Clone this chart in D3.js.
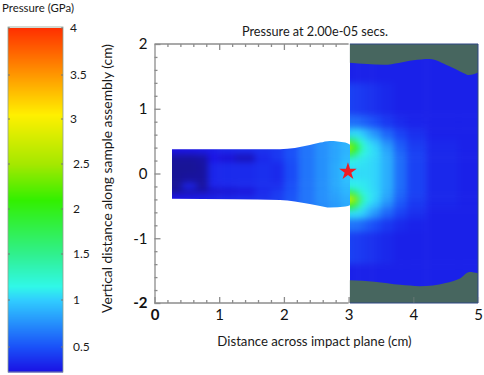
<!DOCTYPE html>
<html>
<head>
<meta charset="utf-8">
<script src="https://cdnjs.cloudflare.com/ajax/libs/d3/7.8.5/d3.min.js"></script>
<style>
body { margin: 0; background: #fff; }
svg { display: block; }
text { font-family: Lato, "Open Sans", sans-serif; fill: #1a1a1a; }
.axis .domain, .axis line { stroke: #8c8c8c; stroke-width: 1.3; }
.axis text { font-size: 15px; font-family: Lato, sans-serif; fill: #111; }
</style>
</head>
<body>
<svg id="chart" width="484" height="375"></svg>
<script>
// colour legend
var barTicks = [4, 3.5, 3, 2.5, 2, 1.5, 1, 0.5];
var colorStops = [0, 0.23, 0.5, 1, 1.15, 1.5, 2.1, 2.5, 3.05, 3.5, 4];
var colorValues = ["#17157a", "#1a10e4", "#1a50f8", "#30ccff", "#30f8e8", "#30f08e", "#32f000", "#a4e800", "#fff000", "#ff9800", "#ff3000"];

// axes
var xMajor = [0, 1, 2, 3, 4, 5];
var yMajor = [2, 1, 0, -1, -2];
var xMinor = [0.2, 0.4, 0.6, 0.8, 1.2, 1.4, 1.6, 1.8, 2.2, 2.4, 2.6, 2.8];
var yMinor = [1.8, 1.6, 1.4, 1.2, 0.8, 0.6, 0.4, 0.2, -0.2, -0.4, -0.6, -0.8, -1.2, -1.4, -1.6, -1.8];

// outline of the impactor (cm)
var impX = [0.27, 1.24, 1.94, 2.4, 2.56, 2.71, 2.95, 3.03];
var impTop = [0.375, 0.375, 0.375, 0.44, 0.477, 0.503, 0.477, 0.44];
var impBottom = [-0.39, -0.397, -0.408, -0.47, -0.5, -0.527, -0.51, -0.485];

// inert (grey) zones of the target
var greyTopX = [3.02, 3.55, 4.0, 4.25, 4.55, 4.78, 4.86, 5.0];
var greyTopY = [1.71, 1.68, 1.75, 1.77, 1.66, 1.55, 1.52, 1.56];
var greyBotX = [3.02, 3.4, 3.8, 4.1, 4.5, 4.72, 4.87, 5.0];
var greyBotY = [-1.65, -1.67, -1.72, -1.74, -1.69, -1.62, -1.52, -1.54];

// pressure (GPa)
var impGridX = [0.3, 0.55, 0.75, 0.9, 1.1, 1.4, 1.7, 1.9, 2.1, 2.35, 2.6, 2.8, 2.95];
var impGridY = [0.5, 0.34, 0.26, 0.1, -0.1, -0.2, -0.28, -0.36, -0.5];
var impGrid = [
  [0.24, 0.26, 0.28, 0.3, 0.33, 0.35, 0.37, 0.4, 0.5, 0.65, 0.76, 0.84, 0.9],
  [0.24, 0.25, 0.27, 0.29, 0.33, 0.35, 0.37, 0.4, 0.5, 0.65, 0.76, 0.84, 0.9],
  [0.08, 0.08, 0.1, 0.24, 0.2, 0.14, 0.33, 0.4, 0.5, 0.65, 0.76, 0.84, 0.92],
  [0.06, 0.06, 0.08, 0.32, 0.34, 0.34, 0.36, 0.34, 0.48, 0.65, 0.76, 0.86, 0.95],
  [0.06, 0.08, 0.08, 0.32, 0.34, 0.34, 0.36, 0.34, 0.48, 0.65, 0.76, 0.86, 0.95],
  [0.06, 0.3, 0.08, 0.3, 0.32, 0.34, 0.36, 0.36, 0.5, 0.65, 0.76, 0.86, 0.92],
  [0.08, 0.1, 0.12, 0.16, 0.18, 0.2, 0.33, 0.4, 0.5, 0.65, 0.76, 0.84, 0.92],
  [0.24, 0.26, 0.28, 0.3, 0.32, 0.34, 0.37, 0.42, 0.52, 0.65, 0.76, 0.82, 0.88],
  [0.24, 0.26, 0.28, 0.3, 0.32, 0.34, 0.37, 0.42, 0.52, 0.65, 0.74, 0.8, 0.86]
];

// pressure (GPa)
var tgtGridX = [3.0, 3.1, 3.2, 3.3, 3.4, 3.6, 3.8, 4.0, 4.4, 5.0];
var tgtGridY = [1.8, 1.0, 0.8, 0.6, 0.5, 0.4, 0.3, 0.2, 0, -0.2, -0.3, -0.4, -0.5, -0.6, -0.8, -1.0, -1.8];
var tgtGrid = [
  [0.3, 0.3, 0.3, 0.3, 0.3, 0.3, 0.3, 0.3, 0.3, 0.3],
  [0.44, 0.42, 0.4, 0.38, 0.36, 0.33, 0.3, 0.3, 0.3, 0.3],
  [0.62, 0.62, 0.58, 0.54, 0.48, 0.4, 0.34, 0.31, 0.3, 0.3],
  [1.0, 1.05, 1.0, 0.88, 0.76, 0.58, 0.44, 0.36, 0.3, 0.3],
  [1.7, 1.5, 1.18, 1.04, 0.94, 0.72, 0.52, 0.4, 0.32, 0.3],
  [2.7, 2.1, 1.35, 1.12, 1.02, 0.82, 0.56, 0.42, 0.33, 0.3],
  [1.8, 1.55, 1.2, 1.1, 1.04, 0.86, 0.6, 0.44, 0.33, 0.3],
  [1.12, 1.1, 1.08, 1.06, 1.02, 0.88, 0.62, 0.44, 0.33, 0.3],
  [1.04, 1.04, 1.05, 1.05, 1.02, 0.88, 0.62, 0.44, 0.33, 0.3],
  [1.12, 1.12, 1.1, 1.08, 1.02, 0.88, 0.62, 0.44, 0.33, 0.3],
  [1.8, 1.6, 1.22, 1.1, 1.04, 0.86, 0.6, 0.44, 0.33, 0.3],
  [3.0, 2.4, 1.45, 1.14, 1.02, 0.82, 0.56, 0.42, 0.33, 0.3],
  [2.0, 1.7, 1.22, 1.04, 0.94, 0.72, 0.52, 0.4, 0.32, 0.3],
  [1.05, 1.05, 1.02, 0.9, 0.76, 0.58, 0.44, 0.36, 0.3, 0.3],
  [0.64, 0.64, 0.6, 0.54, 0.48, 0.4, 0.34, 0.31, 0.3, 0.3],
  [0.44, 0.42, 0.4, 0.38, 0.36, 0.33, 0.3, 0.3, 0.3, 0.3],
  [0.3, 0.3, 0.3, 0.3, 0.3, 0.3, 0.3, 0.3, 0.3, 0.3]
];

var starPoint = [2.99, 0.03];

var svg = d3.select("#chart");
var x = d3.scaleLinear().domain([0, 5]).range([154.5, 478]);
var y = d3.scaleLinear().domain([-2, 2]).range([303, 44]);
var color = d3.scaleLinear().domain(colorStops).range(colorValues).clamp(true);
var barY = d3.scaleLinear().domain(barTicks.concat([0.23])).range([28, 75, 119, 164, 209, 254, 300, 347, 372]);

var defs = svg.append("defs");
defs.append("filter").attr("id", "soft")
  .attr("x", "-10%").attr("y", "-10%").attr("width", "120%").attr("height", "120%")
  .attr("color-interpolation-filters", "sRGB")
  .append("feGaussianBlur").attr("stdDeviation", 3);

var impArea = d3.area()
  .x(function(d){ return x(d); })
  .y0(function(d, i){ return y(impBottom[i]); })
  .y1(function(d, i){ return y(impTop[i]); })
  .curve(d3.curveMonotoneX);
defs.append("clipPath").attr("id", "imp-clip")
  .append("path").attr("d", impArea(impX));
defs.append("clipPath").attr("id", "tgt-clip")
  .append("rect").attr("x", x(3.02)).attr("y", y(2)).attr("width", x(5) - x(3.02)).attr("height", y(-2) - y(2));

// one band per grid node, the outer bands run on past the clip so the blur has no edge
function bandEdges(nodes, scale){
  var px = nodes.map(scale);
  return px.map(function(p, i){
    var a = i == 0 ? p - Math.sign(px[1] - p) * 30 : (px[i - 1] + p) / 2;
    var b = i == px.length - 1 ? p + Math.sign(p - px[i - 1]) * 30 : (px[i + 1] + p) / 2;
    return [Math.min(a, b), Math.max(a, b)];
  });
}

function drawField(grid, gridX, gridY, clipId){
  var xb = bandEdges(gridX, x);
  var yb = bandEdges(gridY, y);
  var cells = [];
  grid.forEach(function(row, r){
    row.forEach(function(p, c){ cells.push({p: p, r: r, c: c}); });
  });
  svg.append("g").attr("clip-path", "url(#" + clipId + ")")
    .append("g").attr("filter", "url(#soft)")
    .selectAll("rect").data(cells).enter().append("rect")
    .attr("x", function(d){ return xb[d.c][0]; })
    .attr("y", function(d){ return yb[d.r][0]; })
    .attr("width", function(d){ return xb[d.c][1] - xb[d.c][0] + 0.5; })
    .attr("height", function(d){ return yb[d.r][1] - yb[d.r][0] + 0.5; })
    .attr("fill", function(d){ return color(d.p); });
}

drawField(impGrid, impGridX, impGridY, "imp-clip");
drawField(tgtGrid, tgtGridX, tgtGridY, "tgt-clip");

// grey zones
var greyTop = d3.area().x(function(d){ return x(d); })
  .y0(y(2)).y1(function(d, i){ return y(greyTopY[i]); }).curve(d3.curveMonotoneX);
var greyBot = d3.area().x(function(d){ return x(d); })
  .y0(y(-2)).y1(function(d, i){ return y(greyBotY[i]); }).curve(d3.curveMonotoneX);
svg.append("path").attr("d", greyTop(greyTopX)).attr("fill", "#47665f");
svg.append("path").attr("d", greyBot(greyBotX)).attr("fill", "#47665f");

// thin edge on the target, open on the impact side
var edge = d3.path();
edge.moveTo(x(3.02), y(2));
edge.lineTo(x(5), y(2));
edge.lineTo(x(5), y(-2));
edge.lineTo(x(3.02), y(-2));
svg.append("path").attr("d", edge.toString())
  .attr("fill", "none").attr("stroke", "#2f4684").attr("stroke-width", 1);

// axes, minor then major
function minorAxis(gen, values, tr){
  svg.append("g").attr("class", "axis").attr("transform", tr)
    .call(gen.tickValues(values).tickSize(3).tickFormat(""))
    .call(function(g){ g.select(".domain").remove(); });
}
minorAxis(d3.axisTop(x), xMinor, "translate(0," + y(-2) + ")");
minorAxis(d3.axisBottom(x), xMinor, "translate(0," + y(2) + ")");
minorAxis(d3.axisRight(y), yMinor, "translate(" + x(0) + ",0)");

var xAxis = svg.append("g").attr("class", "axis").attr("transform", "translate(0," + y(-2) + ")")
  .call(d3.axisBottom(x).tickValues(xMajor).tickSize(-6).tickPadding(6).tickSizeOuter(0).tickFormat(String));
var yAxis = svg.append("g").attr("class", "axis").attr("transform", "translate(" + x(0) + ",0)")
  .call(d3.axisLeft(y).tickValues(yMajor).tickSize(-6).tickPadding(7).tickSizeOuter(0).tickFormat(String));
var topAxis = svg.append("g").attr("class", "axis").attr("transform", "translate(0," + y(2) + ")")
  .call(d3.axisTop(x).tickValues([1, 2]).tickSize(-6).tickSizeOuter(0).tickFormat(""));
xAxis.selectAll("text").filter(function(d){ return d == 0; }).attr("font-weight", 700);
yAxis.selectAll("text").filter(function(d){ return d == -2; }).attr("font-weight", 700);

// the frame stops where the target begins
xAxis.select(".domain").attr("d", "M" + x(0) + ",0H" + x(3));
topAxis.select(".domain").attr("d", "M" + x(0) + ",0H" + x(3));
xAxis.selectAll(".tick").filter(function(d){ return d > 3; }).select("line").attr("stroke-opacity", 0.35);

// star
svg.append("path")
  .attr("d", d3.symbol().type(d3.symbolStar).size(95)())
  .attr("transform", "translate(" + x(starPoint[0]) + "," + y(starPoint[1]) + ")")
  .attr("fill", "#ee1c25");

// colour bar
var barSteps = d3.range(28, 372);
svg.append("g").selectAll("rect").data(barSteps).enter().append("rect")
  .attr("x", 8).attr("y", function(d){ return d; })
  .attr("width", 55).attr("height", 1.5)
  .attr("fill", function(d){ return color(barY.invert(d)); });
svg.append("rect").attr("x", 8).attr("y", 27).attr("width", 55).attr("height", 345)
  .attr("fill", "none").attr("stroke", "#8fa08f").attr("stroke-width", 0.8);
svg.append("g").selectAll("line").data(barTicks).enter().append("line")
  .attr("x1", 8).attr("x2", 10)
  .attr("y1", function(d){ return barY(d); }).attr("y2", function(d){ return barY(d); })
  .attr("stroke", "#777");
svg.append("g").selectAll("line").data(barTicks).enter().append("line")
  .attr("x1", 61).attr("x2", 63)
  .attr("y1", function(d){ return barY(d); }).attr("y2", function(d){ return barY(d); })
  .attr("stroke", "#777");
svg.append("g").selectAll("text").data(barTicks).enter().append("text")
  .attr("x", function(d){ return d >= 3 ? 70 : 73; })
  .attr("y", function(d){ return barY(d); })
  .attr("dy", "0.35em")
  .attr("font-size", 12)
  .text(String);

// titles
svg.append("text").attr("x", 2).attr("y", 12).attr("font-size", 11.4).text("Pressure (GPa)");
svg.append("text").attr("x", 315).attr("y", 36).attr("text-anchor", "middle").attr("font-size", 12.7)
  .text("Pressure at 2.00e-05 secs.");
svg.append("text").attr("x", 314.5).attr("y", 346).attr("text-anchor", "middle").attr("font-size", 13.2)
  .text("Distance across impact plane (cm)");
svg.append("text").attr("transform", "translate(112,178.5) rotate(-90)").attr("text-anchor", "middle").attr("font-size", 13.8)
  .text("Vertical distance along sample assembly (cm)");
</script>
</body>
</html>
